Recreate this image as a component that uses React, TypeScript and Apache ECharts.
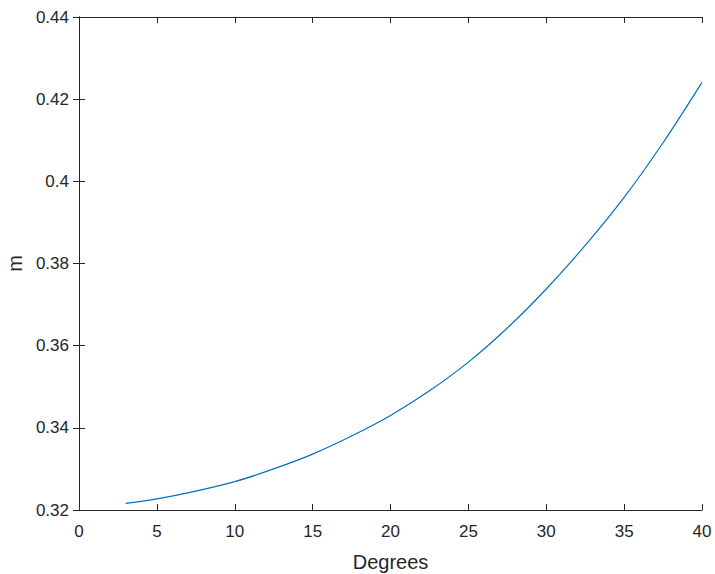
import React, { useEffect, useRef } from "react";
import * as echarts from "echarts";

const degrees = [3, 5, 7.5, 10, 12.5, 15, 17.5, 20, 22.5, 25, 27.5, 30, 32.5, 35, 37.5, 40];
const mValues = [
  0.3216, 0.3227, 0.3246, 0.3269, 0.33, 0.3336, 0.338, 0.343, 0.349, 0.356, 0.3643, 0.3738,
  0.3844, 0.3961, 0.4094, 0.4241,
];
const xTicks = { min: 0, max: 40, interval: 5 };
const yTicks = { min: 0.32, max: 0.44, interval: 0.02 };

const AXIS = "#262626";
const FONT = "'Liberation Sans', Arial, Helvetica, sans-serif";

export default function App() {
  const ref = useRef<HTMLDivElement>(null);
  useEffect(() => {
    if (!ref.current) return;
    const chart = echarts.init(ref.current, undefined, { renderer: "svg" });
    const fmt = (v: number) => String(parseFloat(v.toFixed(4)));
    const axisCommon = {
      axisLine: { show: true, lineStyle: { color: AXIS, width: 1 } },
      axisTick: { show: true, inside: true, length: 6, lineStyle: { color: AXIS } },
      splitLine: { show: false },
    };
    chart.setOption({
      animation: false,
      backgroundColor: "#ffffff",
      grid: {
        left: 79,
        right: 13,
        top: 17,
        bottom: 64,
        containLabel: false,
        outerBoundsMode: "none",
      },
      xAxis: [
        {
          type: "value",
          min: xTicks.min,
          max: xTicks.max,
          interval: xTicks.interval,
          position: "bottom",
          ...axisCommon,
          axisLabel: { color: AXIS, fontSize: 17, fontFamily: FONT, margin: 13 },
          name: "Degrees",
          nameLocation: "middle",
          nameGap: 52,
          nameTextStyle: { color: AXIS, fontSize: 20, fontFamily: FONT, verticalAlign: "middle" },
        },
        {
          type: "value",
          min: xTicks.min,
          max: xTicks.max,
          interval: xTicks.interval,
          position: "top",
          ...axisCommon,
          axisLabel: { show: false },
        },
      ],
      yAxis: [
        {
          type: "value",
          min: yTicks.min,
          max: yTicks.max,
          interval: yTicks.interval,
          position: "left",
          ...axisCommon,
          axisLabel: {
            color: AXIS,
            fontSize: 17,
            fontFamily: FONT,
            margin: 10,
            formatter: fmt,
            padding: [5, 0, 0, 0],
          },
          name: "m",
          nameLocation: "middle",
          nameGap: 64,
          nameRotate: 90,
          nameTextStyle: { color: AXIS, fontSize: 20, fontFamily: FONT, verticalAlign: "middle" },
        },
        {
          type: "value",
          min: yTicks.min,
          max: yTicks.max,
          interval: yTicks.interval,
          position: "right",
          ...axisCommon,
          axisLabel: { show: false },
        },
      ],
      series: [
        {
          type: "line",
          data: degrees.map((d, i) => [d, mValues[i]]),
          smooth: 0.3,
          showSymbol: false,
          symbol: "none",
          lineStyle: { color: "#0072BD", width: 1.2 },
          xAxisIndex: 0,
          yAxisIndex: 0,
        },
      ],
    });
    return () => chart.dispose();
  }, []);
  return <div ref={ref} style={{ width: 715, height: 574, position: "absolute", left: 0, top: 0 }} />;
}
